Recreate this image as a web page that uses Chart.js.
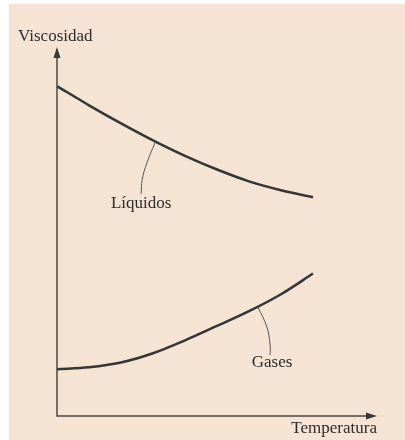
<!DOCTYPE html>
<html lang="es">
<head>
<meta charset="UTF-8">
<title>Viscosidad vs Temperatura</title>
<script src="https://cdn.jsdelivr.net/npm/chart.js"></script>
<style>
  html, body { margin: 0; padding: 0; background: #fff; width: 405px; height: 440px; overflow: hidden; }
  #wrap { position: absolute; left: 9px; top: 4px; width: 396px; height: 436px; background: #f5e4d3; }
  canvas { display: block; }
</style>
</head>
<body>
<div id="wrap"><canvas id="chart" width="396" height="436"></canvas></div>
<script>
// temperature positions (arbitrary units) and the two curves
const temps = [0, 1, 2, 3, 4, 5, 6, 7, 8];
const liquidos = [8.94, 8.42, 7.93, 7.47, 7.05, 6.68, 6.36, 6.12, 5.93];
const gases = [1.27, 1.32, 1.45, 1.70, 2.05, 2.44, 2.84, 3.30, 3.86];

// leader lines from the labels to the curves
const liqLeaderX = [3.06, 2.81, 2.66, 2.63];
const liqLeaderY = [7.40, 6.86, 6.40, 6.02];
const gasLeaderX = [6.28, 6.56, 6.66, 6.66];
const gasLeaderY = [2.95, 2.41, 1.92, 1.65];

const labels = ['Líquidos', 'Gases'];
const labelX = [2.63, 6.72];
const labelY = [5.77, 1.44];
const axisTitles = ['Temperatura', 'Viscosidad'];

const pts = (xs, ys) => xs.map((x, i) => ({ x: x, y: ys[i] }));
const ink = '#363434';
const serif = '"Liberation Serif", "DejaVu Serif", serif';

const axesPlugin = {
  id: 'axesPlugin',
  afterDraw(chart) {
    const c = chart.ctx;
    const xs = chart.scales.x, ys = chart.scales.y;
    const x0 = xs.getPixelForValue(0), y0 = ys.getPixelForValue(0);
    const xEnd = xs.getPixelForValue(10), yEnd = ys.getPixelForValue(10);
    c.save();
    c.strokeStyle = '#4a4646';
    c.fillStyle = '#3a3838';
    c.lineWidth = 1.5;
    c.beginPath();
    c.moveTo(x0, yEnd + 6);
    c.lineTo(x0, y0);
    c.lineTo(xEnd - 6, y0);
    c.stroke();
    // arrow heads
    c.beginPath();
    c.moveTo(x0, yEnd);
    c.lineTo(x0 - 3.5, yEnd + 11);
    c.lineTo(x0 + 3.5, yEnd + 11);
    c.closePath();
    c.fill();
    c.beginPath();
    c.moveTo(xEnd, y0);
    c.lineTo(xEnd - 11, y0 - 3.5);
    c.lineTo(xEnd - 11, y0 + 3.5);
    c.closePath();
    c.fill();
    // titles
    c.font = '17px ' + serif;
    c.fillStyle = '#2e2c2c';
    c.textBaseline = 'middle';
    c.textAlign = 'right';
    c.fillText(axisTitles[0], xEnd, y0 + 13);
    c.textAlign = 'left';
    c.fillText(axisTitles[1], 9, yEnd - 10);
    // curve labels
    c.textAlign = 'center';
    labels.forEach((t, i) => {
      c.fillText(t, xs.getPixelForValue(labelX[i]), ys.getPixelForValue(labelY[i]));
    });
    c.restore();
  }
};

new Chart(document.getElementById('chart'), {
  type: 'scatter',
  data: {
    datasets: [
      { label: 'Líquidos', data: pts(temps, liquidos), showLine: true, borderColor: ink, borderWidth: 2.5, cubicInterpolationMode: 'monotone', pointRadius: 0, clip: false },
      { label: 'Gases', data: pts(temps, gases), showLine: true, borderColor: ink, borderWidth: 2.5, cubicInterpolationMode: 'monotone', pointRadius: 0, clip: false },
      { label: 'liq-leader', data: pts(liqLeaderX, liqLeaderY), showLine: true, borderColor: '#555', borderWidth: 1, tension: 0.4, pointRadius: 0, clip: false },
      { label: 'gas-leader', data: pts(gasLeaderX, gasLeaderY), showLine: true, borderColor: '#555', borderWidth: 1, tension: 0.4, pointRadius: 0, clip: false }
    ]
  },
  options: {
    responsive: false,
    animation: false,
    layout: { padding: { left: 48, right: 28, top: 43, bottom: 24 } },
    scales: {
      x: { type: 'linear', min: 0, max: 10, display: false },
      y: { type: 'linear', min: 0, max: 10, display: false }
    },
    plugins: { legend: { display: false }, tooltip: { enabled: false } }
  },
  plugins: [axesPlugin]
});
</script>
</body>
</html>
